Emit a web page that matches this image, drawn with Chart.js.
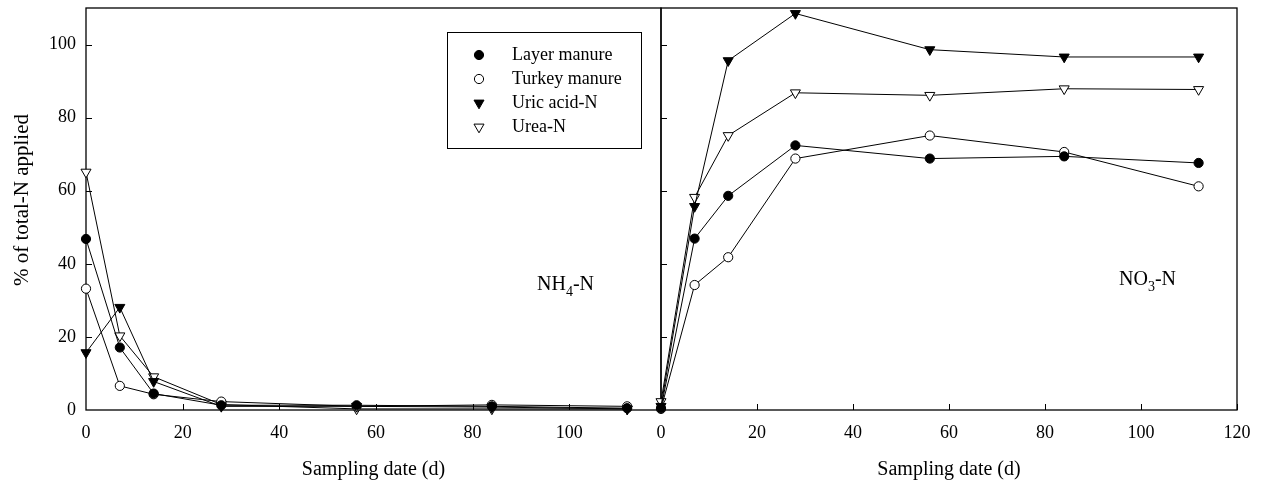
<!DOCTYPE html>
<html>
<head>
<meta charset="utf-8">
<script src="https://cdn.jsdelivr.net/npm/chart.js@4/dist/chart.umd.min.js"></script>
<style>
  html, body { margin: 0; padding: 0; background: #fff; }
  #wrap { position: relative; width: 1263px; height: 485px; }
  #wrap canvas { position: absolute; left: 0; top: 0; }
</style>
</head>
<body>
<div id="wrap">
  <canvas id="nh4Chart" width="1263" height="485"></canvas>
  <canvas id="no3Chart" width="1263" height="485"></canvas>
</div>
<script>
// sampling days (shared by both panels)
const days = [0, 7, 14, 28, 56, 84, 112];

// NH4-N panel, % of total-N applied
const nh4Layer  = [46.8, 17.1, 4.5, 1.3, 1.3, 1.0, 0.5];
const nh4Turkey = [33.2, 6.6, 4.3, 2.3, 1.0, 1.4, 1.0];
const nh4Uric   = [15.7, 28.1, 7.8, 1.0, 1.0, 0.8, 0.3];
const nh4Urea   = [65.1, 20.3, 9.1, 1.5, 0.3, 0.3, 0.3];

// NO3-N panel
const no3Layer  = [0.5, 46.9, 58.6, 72.4, 68.8, 69.4, 67.6];
const no3Turkey = [0.3, 34.2, 41.8, 68.8, 75.1, 70.6, 61.2];
const no3Uric   = [1.0, 55.7, 95.6, 108.5, 98.6, 96.6, 96.6];
const no3Urea   = [2.3, 58.2, 75.1, 86.8, 86.1, 87.9, 87.7];

const seriesNames = ['Layer manure', 'Turkey manure', 'Uric acid-N', 'Urea-N'];
const yTicks = [0, 20, 40, 60, 80, 100];

const FONT = 'Liberation Serif';
Chart.defaults.font.family = FONT;
Chart.defaults.color = '#000';

// marker look for each series
const markers = [
  { style: 'circle',   fill: '#000', radius: 4.6, rotation: 0 },
  { style: 'circle',   fill: '#fff', radius: 4.6, rotation: 0 },
  { style: 'triangle', fill: '#000', radius: 5.8, rotation: 180 },
  { style: 'triangle', fill: '#fff', radius: 5.8, rotation: 180 }
];

function makeDatasets(list) {
  return list.map(function(vals, i) {
    const m = markers[i];
    return {
      label: seriesNames[i],
      data: days.map(function(d, j) { return { x: d, y: vals[j] }; }),
      borderColor: '#000',
      borderWidth: 1,
      pointStyle: m.style,
      rotation: m.rotation,
      pointRadius: m.radius,
      pointHoverRadius: m.radius,
      pointBackgroundColor: m.fill,
      pointBorderColor: '#000',
      pointBorderWidth: 1,
      tension: 0,
      clip: false
    };
  });
}

// box round the plot area + inward tick marks
const frameTicks = {
  id: 'frameTicks',
  beforeDatasetsDraw(chart) {
    const a = chart.chartArea, ctx = chart.ctx;
    ctx.save();
    ctx.strokeStyle = '#000';
    ctx.lineWidth = 1.3;
    ctx.strokeRect(a.left, a.top, a.right - a.left, a.bottom - a.top);
    ctx.lineWidth = 1;
    const xs = chart.scales.x, ys = chart.scales.y;
    ctx.beginPath();
    xs.ticks.forEach(function(t) {
      if (t.value === 0) return;
      const px = Math.round(xs.getPixelForValue(t.value)) + 0.5;
      ctx.moveTo(px, a.bottom);
      ctx.lineTo(px, a.bottom - 6);
    });
    ys.ticks.forEach(function(t) {
      if (t.value === 0) return;
      const py = Math.round(ys.getPixelForValue(t.value)) + 0.5;
      ctx.moveTo(a.left, py);
      ctx.lineTo(a.left + 6, py);
    });
    ctx.stroke();
    ctx.restore();
  }
};

function drawMarker(ctx, m, x, y) {
  ctx.beginPath();
  if (m.style === 'circle') {
    ctx.arc(x, y, m.radius, 0, Math.PI * 2);
  } else {
    const r = m.radius;
    ctx.moveTo(x, y + r);
    ctx.lineTo(x - r * 0.866, y - r / 2);
    ctx.lineTo(x + r * 0.866, y - r / 2);
    ctx.closePath();
  }
  ctx.fillStyle = m.fill;
  ctx.fill();
  ctx.strokeStyle = '#000';
  ctx.lineWidth = 1;
  ctx.stroke();
}

// NH4-N / NO3-N style label with a subscript digit
function chemLabel(ctx, x, y, head, sub, tail) {
  ctx.textBaseline = 'middle';
  ctx.textAlign = 'left';
  ctx.font = '20px "' + FONT + '"';
  ctx.fillText(head, x, y);
  let w = ctx.measureText(head).width;
  ctx.font = '14px "' + FONT + '"';
  ctx.fillText(sub, x + w, y + 7);
  w += ctx.measureText(sub).width;
  ctx.font = '20px "' + FONT + '"';
  ctx.fillText(tail, x + w, y);
}

const leftDecor = {
  id: 'leftDecor',
  afterDraw(chart) {
    const ctx = chart.ctx, a = chart.chartArea;
    ctx.save();
    ctx.fillStyle = '#000';
    // legend
    ctx.lineWidth = 1;
    ctx.strokeStyle = '#000';
    ctx.strokeRect(447.5, 32.5, 194, 116);
    ctx.font = '18px "' + FONT + '"';
    seriesNames.forEach(function(name, i) {
      const y = 55 + i * 24;
      drawMarker(ctx, markers[i], 479, y);
      ctx.fillStyle = '#000';
      ctx.textAlign = 'left';
      ctx.textBaseline = 'middle';
      ctx.fillText(name, 512, y);
    });
    // axis titles
    ctx.font = '20px "' + FONT + '"';
    ctx.textAlign = 'center';
    ctx.textBaseline = 'middle';
    ctx.fillText('Sampling date (d)', (a.left + a.right) / 2, 470);
    ctx.save();
    ctx.translate(22, 200);
    ctx.rotate(-Math.PI / 2);
    ctx.font = '21px "' + FONT + '"';
    ctx.fillText('% of total-N applied', 0, 0);
    ctx.restore();
    chemLabel(ctx, 537, 285, 'NH', '4', '-N');
    ctx.restore();
  }
};

const rightDecor = {
  id: 'rightDecor',
  afterDraw(chart) {
    const ctx = chart.ctx, a = chart.chartArea;
    ctx.save();
    ctx.fillStyle = '#000';
    ctx.font = '20px "' + FONT + '"';
    ctx.textAlign = 'center';
    ctx.textBaseline = 'middle';
    ctx.fillText('Sampling date (d)', (a.left + a.right) / 2, 470);
    chemLabel(ctx, 1119, 280, 'NO', '3', '-N');
    ctx.restore();
  }
};

function panelOptions(pad, xMax, yAxisWidth, showY) {
  return {
    responsive: false,
    animation: false,
    layout: { padding: pad },
    plugins: { legend: { display: false }, tooltip: { enabled: false } },
    scales: {
      x: {
        type: 'linear',
        min: 0,
        max: xMax,
        grid: { display: false, drawTicks: false },
        border: { display: false },
        ticks: { stepSize: 20, includeBounds: false, padding: 12, font: { size: 18 }, maxRotation: 0 },
        afterFit: function(s) { s.height = 75; s.paddingLeft = 0; s.paddingRight = 0; }
      },
      y: {
        min: 0,
        max: 110,
        grid: { display: false, drawTicks: false },
        border: { display: false },
        afterBuildTicks: function(s) { s.ticks = yTicks.map(function(v) { return { value: v }; }); },
        ticks: { display: showY, padding: 10, font: { size: 18 } },
        afterFit: function(s) { s.width = yAxisWidth; s.paddingTop = 0; s.paddingBottom = 0; }
      }
    }
  };
}

new Chart(document.getElementById('nh4Chart'), {
  type: 'line',
  data: { datasets: makeDatasets([nh4Layer, nh4Turkey, nh4Uric, nh4Urea]) },
  options: panelOptions({ left: 0, top: 8, right: 1263 - 661, bottom: 0 }, 119, 86, true),
  plugins: [frameTicks, leftDecor]
});

new Chart(document.getElementById('no3Chart'), {
  type: 'line',
  data: { datasets: makeDatasets([no3Layer, no3Turkey, no3Uric, no3Urea]) },
  options: panelOptions({ left: 661, top: 8, right: 1263 - 1237, bottom: 0 }, 120, 0, false),
  plugins: [frameTicks, rightDecor]
});
</script>
</body>
</html>
